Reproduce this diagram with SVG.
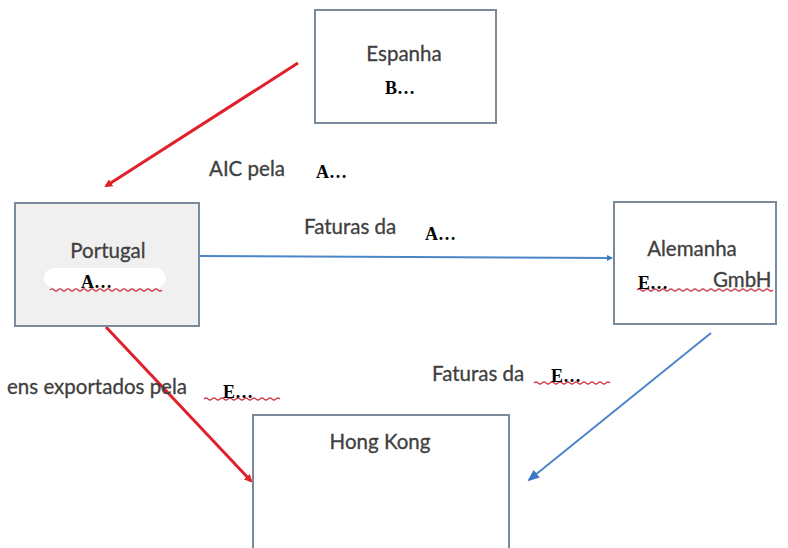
<svg xmlns="http://www.w3.org/2000/svg" width="788" height="548" viewBox="0 0 788 548">
<defs>
<style>
.box{fill:#ffffff;stroke:#7a8a9a;stroke-width:2}
.lbl{font-family:Lato,"Open Sans","Liberation Sans",sans-serif;font-size:20.5px;fill:#404040;stroke:#404040;stroke-width:0.3}
.b{font-family:"Liberation Serif",serif;font-weight:bold;font-size:18px;fill:#000}
.mask{fill:#ffffff}
.wavy{fill:none;stroke:#d04050;stroke-width:1.2}
.red{stroke:#e0202a;stroke-width:3;fill:none}
.blue{stroke:#4a86c8;stroke-width:2;fill:none}
</style>
<marker id="ar" markerWidth="8" markerHeight="8" refX="6" refY="4" orient="auto" markerUnits="userSpaceOnUse">
<path d="M0,0 L8,4 L0,8 Z" fill="#e0202a"/>
</marker>
<marker id="ab" markerWidth="12" markerHeight="10" refX="10" refY="5" orient="auto" markerUnits="userSpaceOnUse">
<path d="M0,0 L12,5 L0,10 Z" fill="#3c78c8"/>
</marker>
<marker id="abs" markerWidth="6" markerHeight="6" refX="5" refY="3" orient="auto" markerUnits="userSpaceOnUse">
<path d="M0,0 L6,3 L0,6 Z" fill="#3c78c8"/>
</marker>
</defs>
<rect width="788" height="548" fill="#ffffff"/>

<g id="connectors">
<line class="red" x1="298" y1="63" x2="106" y2="186" marker-end="url(#ar)"/>
<line class="red" x1="106" y1="327" x2="251" y2="481" marker-end="url(#ar)"/>
<line class="blue" x1="200" y1="256" x2="612" y2="258" marker-end="url(#abs)"/>
<line class="blue" x1="711" y1="333" x2="529" y2="480" marker-end="url(#ab)"/>
</g>

<g id="espanha">
<rect class="box" x="315" y="10" width="181" height="113"/>
<text class="lbl" x="404" y="61" text-anchor="middle">Espanha</text>
<ellipse class="mask" cx="404" cy="87" rx="60" ry="12"/>
<text class="b" x="385" y="94">B…</text>
</g>

<g id="portugal">
<rect class="box" x="15" y="203" width="184" height="123" fill="#f0f0f0" style="fill:#f0f0f0"/>
<text class="lbl" x="108" y="258" text-anchor="middle">Portugal</text>
<rect class="mask" x="44" y="268" width="122" height="20" rx="10"/>
<path class="wavy" d="M50,290 q2,-2 4,0 t4,0 t4,0 t4,0 t4,0 t4,0 t4,0 t4,0 t4,0 t4,0 t4,0 t4,0 t4,0 t4,0 t4,0 t4,0 t4,0 t4,0 t4,0 t4,0 t4,0 t4,0 t4,0 t4,0 t4,0 t4,0 t4,0 t4,0"/>
<text class="b" x="81" y="288">A…</text>
</g>

<g id="alemanha">
<rect class="box" x="614" y="202" width="162" height="122"/>
<text class="lbl" x="692" y="256" text-anchor="middle">Alemanha</text>
<ellipse class="mask" cx="680" cy="280" rx="24" ry="10"/>
<path class="wavy" d="M637,290 q2,-2 4,0 t4,0 t4,0 t4,0 t4,0 t4,0 t4,0 t4,0 t4,0 t4,0 t4,0 t4,0 t4,0 t4,0 t4,0 t4,0 t4,0 t4,0 t4,0 t4,0 t4,0 t4,0 t4,0 t4,0 t4,0 t4,0 t4,0 t4,0 t4,0 t4,0 t4,0 t4,0 t4,0 t4,0"/>
<text class="b" x="638" y="289">E…</text>
<text class="lbl" x="713" y="287">GmbH</text>
</g>

<g id="hongkong">
<rect class="box" x="253" y="415" width="256" height="150"/>
<text class="lbl" x="380" y="449" text-anchor="middle">Hong Kong</text>
</g>

<g id="label-aic">
<ellipse class="mask" cx="305" cy="170" rx="105" ry="24"/>
<text class="lbl" x="209" y="176">AIC pela</text>
<text class="b" x="316" y="178">A…</text>
</g>

<g id="label-faturas-a">
<ellipse class="mask" cx="470" cy="232" rx="75" ry="17"/>
<text class="lbl" x="304" y="234">Faturas da</text>
<text class="b" x="425" y="240">A…</text>
</g>

<g id="label-bens">
<text class="lbl" x="7" y="394">ens exportados pela</text>
<path class="wavy" d="M204,399 q2,-2 4,0 t4,0 t4,0 t4,0 t4,0 t4,0 t4,0 t4,0 t4,0 t4,0 t4,0 t4,0 t4,0 t4,0 t4,0 t4,0 t4,0 t4,0 t4,0"/>
<text class="b" x="223" y="398">E…</text>
</g>

<g id="label-faturas-e">
<text class="lbl" x="432" y="381">Faturas da</text>
<path class="wavy" d="M534,383 q2,-2 4,0 t4,0 t4,0 t4,0 t4,0 t4,0 t4,0 t4,0 t4,0 t4,0 t4,0 t4,0 t4,0 t4,0 t4,0 t4,0 t4,0 t4,0 t4,0"/>
<text class="b" x="551" y="382">E…</text>
</g>
</svg>
